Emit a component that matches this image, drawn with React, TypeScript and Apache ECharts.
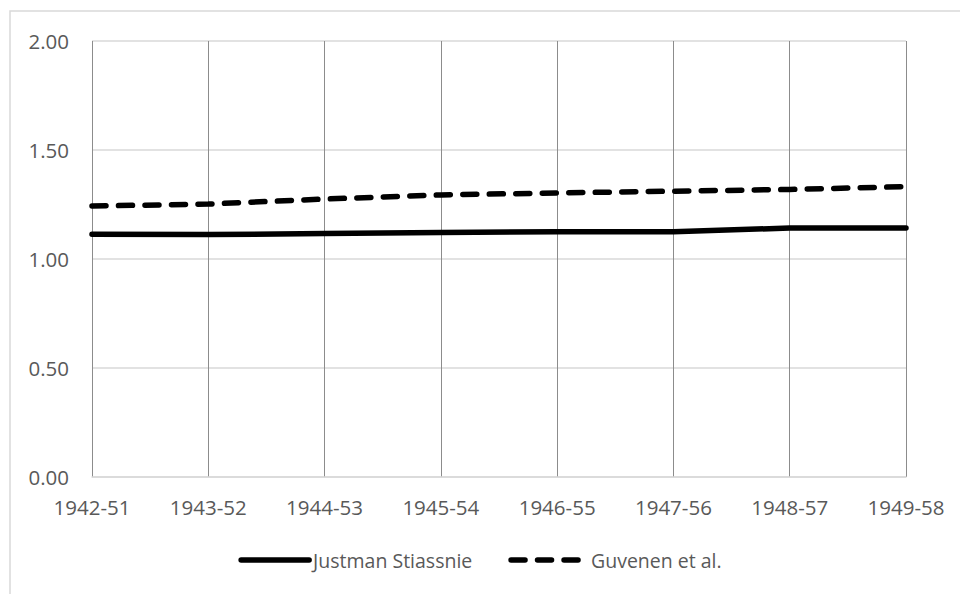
import React, { useEffect, useRef } from "react";
import * as echarts from "echarts";

const categories = ["1942-51", "1943-52", "1944-53", "1945-54", "1946-55", "1947-56", "1948-57", "1949-58"];
const justmanStiassnie = [1.113, 1.112, 1.117, 1.122, 1.125, 1.125, 1.142, 1.142];
const guvenenEtAl = [1.243, 1.252, 1.275, 1.294, 1.303, 1.311, 1.319, 1.332];
const yTicks = { min: 0, max: 2, interval: 0.5 };

const FONT = "'Open Sans', 'Noto Sans', sans-serif";
const TEXT_COLOR = "#595959";

export default function App() {
  const ref = useRef<HTMLDivElement>(null);
  useEffect(() => {
    if (!ref.current) return;
    const chart = echarts.init(ref.current, undefined, { renderer: "svg" });
    chart.setOption({
      animation: false,
      backgroundColor: "#ffffff",
      textStyle: { fontFamily: FONT },
      graphic: [
        {
          type: "rect",
          shape: { x: 10, y: 11, width: 1200, height: 1200 },
          style: { fill: "none", stroke: "#d9d9d9", lineWidth: 1.5 },
          silent: true,
          z: -1,
        },
      ],
      grid: { left: 92, right: 54, top: 41, bottom: 117, containLabel: false },
      legend: {
        bottom: 19,
        left: "center",
        itemWidth: 68,
        itemHeight: 10,
        itemGap: 36,
        itemStyle: { opacity: 0 },
        lineStyle: { width: 5.5, cap: "round" },
        textStyle: { fontFamily: FONT, fontSize: 19.5, color: TEXT_COLOR, padding: [0, 0, 0, -1] },
        data: [
          { name: "Justman Stiassnie" },
          { name: "Guvenen et al.", textStyle: { padding: [0, 0, 0, 7] } },
        ],
      },
      xAxis: {
        type: "category",
        data: categories,
        boundaryGap: false,
        axisLine: { show: true, lineStyle: { color: "#d9d9d9", width: 1.5 } },
        axisTick: { show: false },
        splitLine: { show: true, lineStyle: { color: "#8c8c8c", width: 1 } },
        axisLabel: { fontFamily: FONT, fontSize: 20.5, color: TEXT_COLOR, margin: 19 },
      },
      yAxis: {
        type: "value",
        min: yTicks.min,
        max: yTicks.max,
        interval: yTicks.interval,
        axisLine: { show: false },
        axisTick: { show: false },
        splitLine: { show: true, lineStyle: { color: "#d9d9d9", width: 1.5 } },
        axisLabel: {
          fontFamily: FONT,
          fontSize: 20.5,
          color: TEXT_COLOR,
          margin: 23,
          formatter: (v: number) => v.toFixed(2),
        },
      },
      series: [
        {
          name: "Justman Stiassnie",
          type: "line",
          data: justmanStiassnie,
          symbol: "none",
          lineStyle: { color: "#000000", width: 5.5, cap: "round", join: "round" },
          itemStyle: { color: "#000000" },
        },
        {
          name: "Guvenen et al.",
          type: "line",
          data: guvenenEtAl,
          symbol: "none",
          lineStyle: { color: "#000000", width: 5.5, type: [14, 12.5], cap: "round", join: "round" },
          itemStyle: { color: "#000000" },
        },
      ],
    });
    return () => chart.dispose();
  }, []);
  return (
    <div
      ref={ref}
      style={{ position: "fixed", left: 0, top: 0, width: 960, height: 594, background: "#fff" }}
    />
  );
}
